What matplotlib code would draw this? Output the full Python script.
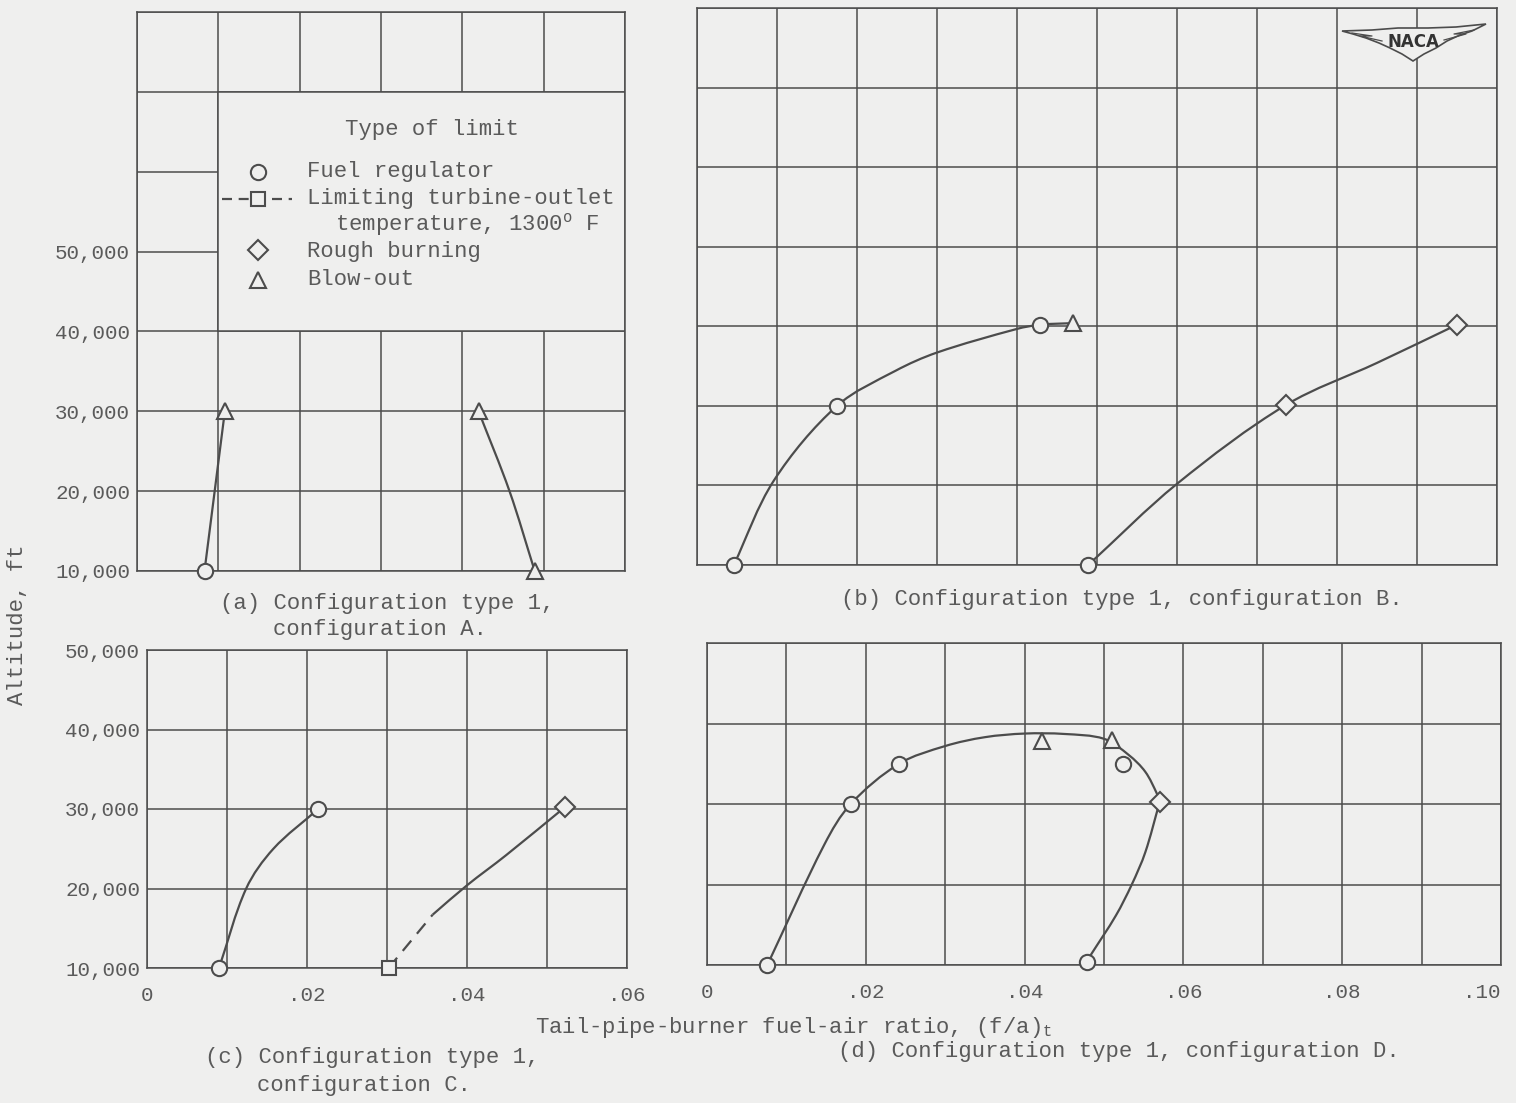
import math
import matplotlib
matplotlib.use("Agg")
import matplotlib.pyplot as plt
from matplotlib.patches import Rectangle, Polygon, PathPatch
from matplotlib.path import Path
from matplotlib.lines import Line2D

plt.rcParams['font.family'] = ['Liberation Mono', 'DejaVu Sans Mono']
plt.rcParams['mathtext.fontset'] = 'custom'
plt.rcParams['mathtext.rm'] = 'Liberation Mono'
plt.rcParams['mathtext.it'] = 'Liberation Mono'

BG = '#efefee'
INK = '#4c4c4c'
TXT = '#5a5a5a'

# ---------------- data ----------------
# (a) Configuration A
a_circle_x = [0.0083]
a_circle_y = [10000]
a_tri_x = [0.0108, 0.0420, 0.0489]
a_tri_y = [30000, 30000, 10000]
a_curve1_x = [0.0083, 0.0108]
a_curve1_y = [10000, 30000]
a_curve2_x = [0.0420, 0.0458, 0.0489]
a_curve2_y = [30000, 20000, 10000]

# (b) Configuration B
b_circle_x = [0.0046, 0.0175, 0.0429, 0.0489]
b_circle_y = [10000, 30000, 40200, 10000]
b_tri_x = [0.0470]
b_tri_y = [40400]
b_diamond_x = [0.0736, 0.0950]
b_diamond_y = [30100, 40200]
b_curve1_x = [0.0046, 0.0096, 0.0175, 0.0248, 0.0300, 0.0400, 0.0429, 0.0470]
b_curve1_y = [10000, 20600, 30000, 34400, 36700, 39670, 40200, 40400]
b_curve2_x = [0.0489, 0.0600, 0.0736, 0.0850, 0.0950]
b_curve2_y = [10000, 20200, 30100, 35400, 40200]

# (c) Configuration C
c_circle_x = [0.0090, 0.0214]
c_circle_y = [10000, 30000]
c_square_x = [0.0302]
c_square_y = [10000]
c_diamond_x = [0.0522]
c_diamond_y = [30200]
c_curve1_x = [0.0090, 0.0124, 0.0158, 0.0214]
c_curve1_y = [10000, 20000, 25000, 30000]
c_dash_x = [0.0302, 0.0357]
c_dash_y = [10000, 16700]
c_curve2_x = [0.0357, 0.0400, 0.0449, 0.0522]
c_curve2_y = [16700, 20400, 24200, 30200]

# (d) Configuration D
d_circle_x = [0.0076, 0.0181, 0.0242, 0.0524, 0.0478]
d_circle_y = [10000, 30000, 35000, 35000, 10400]
d_tri_x = [0.0422, 0.0510]
d_tri_y = [37800, 37950]
d_diamond_x = [0.0570]
d_diamond_y = [30200]
d_upper_x = [0.0076, 0.0148, 0.0181, 0.0242, 0.0300, 0.0350, 0.0400, 0.0450,
             0.0500, 0.0531, 0.0552, 0.0567, 0.0570]
d_upper_y = [10000, 25000, 30000, 35000, 37200, 38300, 38750, 38700,
             38100, 36100, 34000, 31200, 30200]
d_lower_x = [0.0570, 0.0552, 0.0535, 0.0515, 0.0483, 0.0478]
d_lower_y = [30200, 24000, 20000, 16150, 11200, 10400]

# axis ticks
alt_ticks_tall = [10000, 20000, 30000, 40000, 50000, 60000, 70000, 80000]
alt_labels_tall = ['10,000', '20,000', '30,000', '40,000', '50,000', '', '', '']
alt_ticks_short = [10000, 20000, 30000, 40000, 50000]
alt_labels_short = ['10,000', '20,000', '30,000', '40,000', '50,000']
fa_ticks_small = [0, 0.01, 0.02, 0.03, 0.04, 0.05, 0.06]
fa_labels_small = ['0', '', '.02', '', '.04', '', '.06']
fa_ticks_large = [0, 0.01, 0.02, 0.03, 0.04, 0.05, 0.06, 0.07, 0.08, 0.09, 0.10]
fa_labels_large = ['0', '', '.02', '', '.04', '', '.06', '', '.08', '', '.10']

# ---------------- figure ----------------
W, H = 1516, 1103
fig = plt.figure(figsize=(W / 100, H / 100), dpi=100)
fig.patch.set_facecolor(BG)


def px_axes(x0, y0, x1, y1):
    return fig.add_axes([x0 / W, 1 - y1 / H, (x1 - x0) / W, (y1 - y0) / H])


def style(ax, xt, xl, yt, yl, xlim, ylim, show_x, show_y):
    ax.set_facecolor(BG)
    ax.set_xlim(*xlim)
    ax.set_ylim(*ylim)
    ax.set_xticks(xt)
    ax.set_yticks(yt)
    ax.set_xticklabels(xl if show_x else [''] * len(xt))
    ax.set_yticklabels(yl if show_y else [''] * len(yt))
    ax.grid(True, color=INK, linewidth=1.1)
    ax.set_axisbelow(True)
    ax.tick_params(length=0, labelsize=15, colors=TXT, pad=5)
    ax.tick_params(axis='x', pad=13)
    for s in ax.spines.values():
        s.set_color(INK)
        s.set_linewidth(1.1)


def faired(ax, x, y, dashed=False):
    """Smooth faired curve through the given points (chord-length Hermite as Beziers)."""
    pts = list(zip(x, y))
    n = len(pts)
    # chord lengths measured in grid squares (0.01 by 10,000 ft)
    d = [math.hypot((pts[i + 1][0] - pts[i][0]) / 0.01,
                    (pts[i + 1][1] - pts[i][1]) / 10000) for i in range(n - 1)]
    tang = []
    for i in range(n):
        if i == 0:
            a, b, L = pts[0], pts[1], d[0]
        elif i == n - 1:
            a, b, L = pts[n - 2], pts[n - 1], d[n - 2]
        else:
            a, b, L = pts[i - 1], pts[i + 1], d[i - 1] + d[i]
        tang.append(((b[0] - a[0]) / L, (b[1] - a[1]) / L))
    verts = [pts[0]]
    codes = [Path.MOVETO]
    for i in range(n - 1):
        p1, p2 = pts[i], pts[i + 1]
        h = d[i] / 3
        c1 = (p1[0] + tang[i][0] * h, p1[1] + tang[i][1] * h)
        c2 = (p2[0] - tang[i + 1][0] * h, p2[1] - tang[i + 1][1] * h)
        verts += [c1, c2, p2]
        codes += [Path.CURVE4] * 3
    patch = PathPatch(Path(verts, codes), fill=False, edgecolor=INK,
                      linewidth=1.6, zorder=3, clip_on=False)
    if dashed:
        patch.set_linestyle((0, (6, 4)))
    ax.add_patch(patch)


def marks(ax, x, y, m, ms=11):
    ax.plot(x, y, linestyle='none', marker=m, markersize=ms, clip_on=False,
            markerfacecolor=BG, markeredgecolor=INK, markeredgewidth=1.5, zorder=4)


ax_a = px_axes(137, 12, 625, 571)
ax_b = px_axes(697, 8, 1497, 565)
ax_c = px_axes(147, 650, 627, 968)
ax_d = px_axes(707, 643, 1501, 965)

style(ax_a, fa_ticks_small, fa_labels_small, alt_ticks_tall, alt_labels_tall,
      (0, 0.06), (10000, 80000), False, True)
style(ax_b, fa_ticks_large, fa_labels_large, alt_ticks_tall, alt_labels_tall,
      (0, 0.10), (10000, 80000), False, False)
style(ax_c, fa_ticks_small, fa_labels_small, alt_ticks_short, alt_labels_short,
      (0, 0.06), (10000, 50000), True, True)
style(ax_d, fa_ticks_large, fa_labels_large, alt_ticks_short, alt_labels_short,
      (0, 0.10), (10000, 50000), True, False)
ax_d.get_xticklabels()[-1].set_horizontalalignment('right')

# (a)
faired(ax_a, a_curve1_x, a_curve1_y)
faired(ax_a, a_curve2_x, a_curve2_y)
marks(ax_a, a_circle_x, a_circle_y, 'o')
marks(ax_a, a_tri_x, a_tri_y, '^')

# (b)
faired(ax_b, b_curve1_x, b_curve1_y)
faired(ax_b, b_curve2_x, b_curve2_y)
marks(ax_b, b_circle_x, b_circle_y, 'o')
marks(ax_b, b_tri_x, b_tri_y, '^')
marks(ax_b, b_diamond_x, b_diamond_y, 'D', ms=10)

# (c)
faired(ax_c, c_curve1_x, c_curve1_y)
faired(ax_c, c_dash_x, c_dash_y, dashed=True)
faired(ax_c, c_curve2_x, c_curve2_y)
marks(ax_c, c_circle_x, c_circle_y, 'o')
marks(ax_c, c_square_x, c_square_y, 's', ms=10)
marks(ax_c, c_diamond_x, c_diamond_y, 'D', ms=10)

# (d)
faired(ax_d, d_upper_x, d_upper_y)
faired(ax_d, d_lower_x, d_lower_y)
marks(ax_d, d_circle_x, d_circle_y, 'o')
marks(ax_d, d_tri_x, d_tri_y, '^')
marks(ax_d, d_diamond_x, d_diamond_y, 'D', ms=10)

# legend box inside panel (a)
ax_a.add_patch(Rectangle((0.01, 40000), 0.05, 30000, facecolor=BG,
                         edgecolor=INK, linewidth=1.1, zorder=1))
T = ax_a.transAxes
ax_a.text(0.6045, 0.789, 'Type of limit', transform=T, ha='center', va='center',
          fontsize=16, color=TXT, zorder=5)
leg_x = 0.248
ax_a.plot([leg_x], [0.714], transform=T, marker='o', markersize=11,
          markerfacecolor=BG, markeredgecolor=INK, markeredgewidth=1.5, zorder=5)
ax_a.plot([0.174, 0.318], [0.6655, 0.6655], transform=T, color=INK,
          linewidth=1.6, dashes=(4.5, 3), zorder=5)
ax_a.plot([leg_x], [0.6655], transform=T, marker='s', markersize=10,
          markerfacecolor=BG, markeredgecolor=INK, markeredgewidth=1.5, zorder=6)
ax_a.plot([leg_x], [0.574], transform=T, marker='D', markersize=10,
          markerfacecolor=BG, markeredgecolor=INK, markeredgewidth=1.5, zorder=5)
ax_a.plot([leg_x], [0.5206], transform=T, marker='^', markersize=11,
          markerfacecolor=BG, markeredgecolor=INK, markeredgewidth=1.5, zorder=5)
lx = 0.348
for txt, xx, yy in [('Fuel regulator', lx, 0.714),
                    ('Limiting turbine-outlet', lx, 0.6655),
                    (r'temperature, 1300$^{\mathrm{o}}$ F', 0.406, 0.619),
                    ('Rough burning', lx, 0.571),
                    ('Blow-out', lx, 0.5206)]:
    ax_a.text(xx, yy, txt, transform=T, ha='left', va='center',
              fontsize=16, color=TXT, zorder=5)


# captions and axis titles
def ftext(x, y, s, **kw):
    kw.setdefault('fontsize', 16)
    kw.setdefault('color', TXT)
    fig.text(x / W, 1 - y / H, s, **kw)


ftext(220, 603, '(a) Configuration type 1,', ha='left', va='center')
ftext(273, 630, 'configuration A.', ha='left', va='center')
ftext(1122, 599, '(b) Configuration type 1, configuration B.', ha='center', va='center')
ftext(205, 1058, '(c) Configuration type 1,', ha='left', va='center')
ftext(257, 1085, 'configuration C.', ha='left', va='center')
ftext(1119, 1051, '(d) Configuration type 1, configuration D.', ha='center', va='center')
ftext(535, 1027, r'Tail-pipe-burner fuel-air ratio, (f/a)$_{\mathrm{t}}$', ha='left', va='center')
ftext(18, 625, 'Altitude, ft', ha='center', va='center', rotation=90)

# NACA wing emblem
deco = fig.add_axes([0, 0, 1, 1])
deco.set_xlim(0, W)
deco.set_ylim(H, 0)
deco.axis('off')
deco.patch.set_alpha(0)
wing = [(1342, 31), (1372, 30), (1398, 28), (1428, 28), (1456, 27), (1486, 24),
        (1472, 31), (1460, 35), (1447, 41), (1436, 48), (1424, 54), (1413, 61),
        (1402, 54), (1390, 48), (1379, 43), (1366, 38), (1353, 34)]
deco.add_patch(Polygon(wing, closed=True, facecolor=BG, edgecolor=INK, linewidth=1.2))
for seg in [[(1352, 33), (1372, 36), (1360, 36), (1382, 41)],
            [(1474, 30), (1454, 34), (1466, 34), (1444, 40)]]:
    deco.add_line(Line2D([p[0] for p in seg], [p[1] for p in seg], color=INK, linewidth=0.9))
deco.text(1413, 42, 'NACA', ha='center', va='center', fontsize=12,
          family='DejaVu Sans', color='#333333', fontweight='bold')

fig.savefig('out.png', dpi=100, facecolor=BG)
